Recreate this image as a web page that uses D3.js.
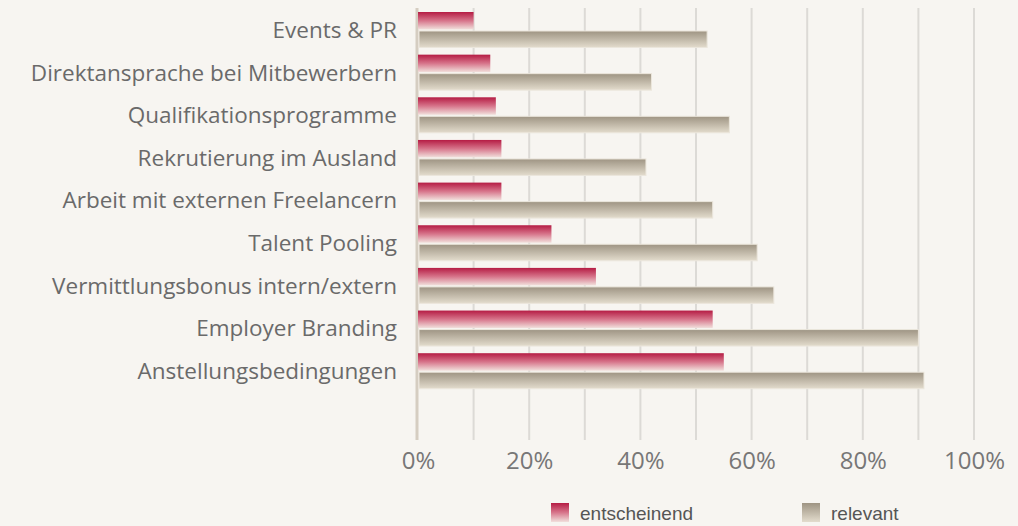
<!DOCTYPE html>
<html>
<head>
<meta charset="utf-8">
<script src="https://cdnjs.cloudflare.com/ajax/libs/d3/7.8.5/d3.min.js"></script>
<style>
  html, body { margin: 0; padding: 0; background: #f7f5f1; }
  svg { display: block; }
</style>
</head>
<body>
<svg></svg>
<script>
// chart data
var categories = [
  "Events & PR",
  "Direktansprache bei Mitbewerbern",
  "Qualifikationsprogramme",
  "Rekrutierung im Ausland",
  "Arbeit mit externen Freelancern",
  "Talent Pooling",
  "Vermittlungsbonus intern/extern",
  "Employer Branding",
  "Anstellungsbedingungen"
];
var entscheinend = [10, 13, 14, 15, 15, 24, 32, 53, 55];
var relevant = [52, 42, 56, 41, 53, 61, 64, 90, 91];
var tickValues = [0, 20, 40, 60, 80, 100];
var gridValues = [10, 20, 30, 40, 50, 60, 70, 80, 90, 100];
var seriesNames = ["entscheinend", "relevant"];

window.onload = function() {
  var width = 1018;
  var height = 526;

  var svg = d3.select("svg")
    .attr("width", width)
    .attr("height", height);

  svg.append("rect")
    .attr("width", width)
    .attr("height", height)
    .attr("fill", "#f7f5f1");

  // gradients for the two series
  var defs = svg.append("defs");
  var red = defs.append("linearGradient")
    .attr("id", "gradRed")
    .attr("x1", 0).attr("y1", 0).attr("x2", 0).attr("y2", 1);
  red.append("stop").attr("offset", "0%").attr("stop-color", "#b51c44");
  red.append("stop").attr("offset", "50%").attr("stop-color", "#d7758b");
  red.append("stop").attr("offset", "100%").attr("stop-color", "#f1e0dc");

  var tan = defs.append("linearGradient")
    .attr("id", "gradTan")
    .attr("x1", 0).attr("y1", 0).attr("x2", 0).attr("y2", 1);
  tan.append("stop").attr("offset", "0%").attr("stop-color", "#9e9483");
  tan.append("stop").attr("offset", "100%").attr("stop-color", "#e3dccd");

  var x = d3.scaleLinear()
    .domain([0, 100])
    .range([418, 974]);

  var y = d3.scaleBand()
    .domain(categories)
    .range([12, 389.2])
    .paddingInner(0.156)
    .paddingOuter(0);

  var barH = 17.5;

  // grid lines
  svg.append("g").selectAll("line")
    .data(gridValues)
    .enter()
    .append("line")
    .attr("x1", function(d) { return x(d); })
    .attr("x2", function(d) { return x(d); })
    .attr("y1", 8)
    .attr("y2", 440)
    .attr("stroke", "#dcdad6")
    .attr("stroke-width", 2);

  // zero line
  svg.append("line")
    .attr("x1", x(0) - 1)
    .attr("x2", x(0) - 1)
    .attr("y1", 8)
    .attr("y2", 440)
    .attr("stroke", "#d5cdc1")
    .attr("stroke-width", 3);

  var bars = svg.append("g");

  // red bars (entscheinend)
  bars.selectAll("rect.red")
    .data(categories)
    .enter()
    .append("rect")
    .attr("class", "red")
    .attr("x", x(0))
    .attr("y", function(d) { return y(d); })
    .attr("width", function(d, i) { return x(entscheinend[i]) - x(0); })
    .attr("height", barH)
    .attr("fill", "url(#gradRed)");

  // tan bars (relevant)
  bars.selectAll("rect.tan")
    .data(categories)
    .enter()
    .append("rect")
    .attr("class", "tan")
    .attr("x", x(0) + 1)
    .attr("y", function(d) { return y(d) + barH + 1.5; })
    .attr("width", function(d, i) { return x(relevant[i]) - x(0) - 1; })
    .attr("height", barH - 1)
    .attr("fill", "url(#gradTan)")
    .attr("stroke", "#ebe6dc")
    .attr("stroke-width", 1);

  // category labels
  svg.append("g").selectAll("text")
    .data(categories)
    .enter()
    .append("text")
    .attr("x", 397)
    .attr("y", function(d) { return y(d) + y.bandwidth() / 2; })
    .attr("dy", "0.35em")
    .attr("text-anchor", "end")
    .attr("font-family", "'Open Sans', sans-serif")
    .attr("font-size", 22.5)
    .attr("fill", "#6a6a6a")
    .text(function(d) { return d; });

  // x axis labels
  var axis = d3.axisBottom(x)
    .tickValues(tickValues)
    .tickSize(0)
    .tickPadding(0)
    .tickFormat(function(d) { return d + "%"; });

  var axisG = svg.append("g")
    .attr("transform", "translate(0,452)")
    .call(axis);
  axisG.select(".domain").remove();
  axisG.selectAll("text")
    .attr("font-family", "'Open Sans', sans-serif")
    .attr("font-size", 24)
    .attr("fill", "#777")
    .attr("dy", "0.71em");

  // legend
  var legendX = [551, 802];
  var legend = svg.append("g").selectAll("g")
    .data(seriesNames)
    .enter()
    .append("g")
    .attr("transform", function(d, i) { return "translate(" + legendX[i] + ",503)"; });

  legend.append("rect")
    .attr("width", 18)
    .attr("height", 19)
    .attr("fill", function(d, i) { return i == 0 ? "url(#gradRed)" : "url(#gradTan)"; });

  legend.append("text")
    .attr("x", 29)
    .attr("y", 17)
    .attr("font-family", "'Liberation Sans', Arial, sans-serif")
    .attr("font-size", 19)
    .attr("fill", "#555")
    .text(function(d) { return d; });
};
</script>
</body>
</html>
